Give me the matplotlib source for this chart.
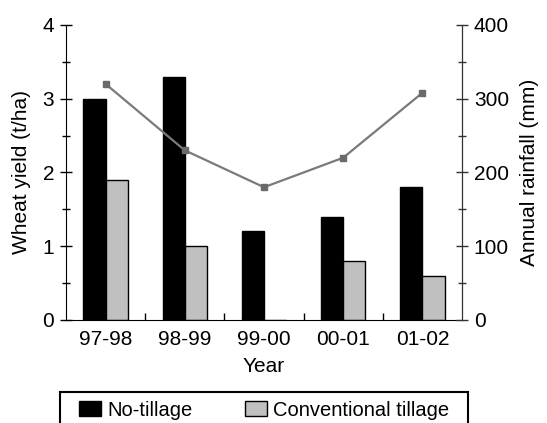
import matplotlib.pyplot as plt
import numpy as np
from matplotlib.ticker import MultipleLocator, FixedLocator
from matplotlib.patches import Rectangle

plt.rcParams['font.family'] = ['Liberation Sans', 'DejaVu Sans']

# data
years = ['97-98', '98-99', '99-00', '00-01', '01-02']
no_tillage = [3.0, 3.3, 1.2, 1.4, 1.8]
conventional = [1.9, 1.0, 0.0, 0.8, 0.6]
rainfall = [320, 230, 180, 220, 308]

fs = 15

fig = plt.figure(figsize=(5.47, 4.23), dpi=100)
ax = fig.add_axes([0.1207, 0.2435, 0.7239, 0.6975])
ax2 = ax.twinx()

x = np.arange(len(years))
w = 0.28
b1 = ax.bar(x - w / 2, no_tillage, w, color='black', edgecolor='black', linewidth=1, label='No-tillage', zorder=2)
b2 = ax.bar(x + w / 2, conventional, w, color='#c0c0c0', edgecolor='black', linewidth=1, label='Conventional tillage', zorder=2)

ax2.plot(x, rainfall, color='#7a7a7a', linewidth=1.6, marker='s', markersize=4,
         markerfacecolor='#6a6a6a', markeredgecolor='#6a6a6a')

ax.set_xlim(-0.5, 4.5)
ax.set_ylim(0, 4)
ax2.set_ylim(0, 400)

ax.set_xticks(x)
ax.set_xticklabels(years, fontsize=fs)
ax.tick_params(axis='x', length=0, pad=7)
ax.xaxis.set_minor_locator(FixedLocator([0.5, 1.5, 2.5, 3.5]))
ax.tick_params(axis='x', which='minor', direction='in', length=5, width=1)

ax.yaxis.set_major_locator(MultipleLocator(1))
ax.yaxis.set_minor_locator(MultipleLocator(0.5))
ax.tick_params(axis='y', which='major', direction='inout', length=9, width=1, labelsize=fs, pad=4)
ax.tick_params(axis='y', which='minor', direction='inout', length=6, width=1)

ax2.yaxis.set_major_locator(MultipleLocator(100))
ax2.yaxis.set_minor_locator(MultipleLocator(50))
ax2.tick_params(axis='y', which='major', direction='inout', length=9, width=1, labelsize=fs, colors='#333333', labelcolor='black', pad=4)
ax2.tick_params(axis='y', which='minor', direction='inout', length=6, width=1, colors='#333333')

for a in (ax, ax2):
    a.spines['top'].set_visible(False)
ax2.spines['right'].set_color('#333333')
ax2.spines['left'].set_visible(False)
ax2.spines['bottom'].set_visible(False)

ax.set_xlabel('Year', fontsize=fs, labelpad=6)
ax.set_ylabel('Wheat yield (t/ha)', fontsize=fs, labelpad=8)
ax2.set_ylabel('Annual rainfall (mm)', fontsize=fs, labelpad=8)

# legend box, cut off by the bottom edge as in the original
fig.patches.append(Rectangle((60 / 547, -0.05), 408 / 547, 0.05 + 1 - 392 / 423,
                             transform=fig.transFigure, fill=False, edgecolor='black', linewidth=1.5))
fig.legend(handles=[b1, b2], loc='center', bbox_to_anchor=(264 / 547, 1 - 410 / 423),
           ncol=2, fontsize=14.5, frameon=False,
           handlelength=1.1, handleheight=0.8, columnspacing=2.6, handletextpad=0.3,
           borderpad=0, borderaxespad=0)

fig.savefig('out.png', dpi=100)
